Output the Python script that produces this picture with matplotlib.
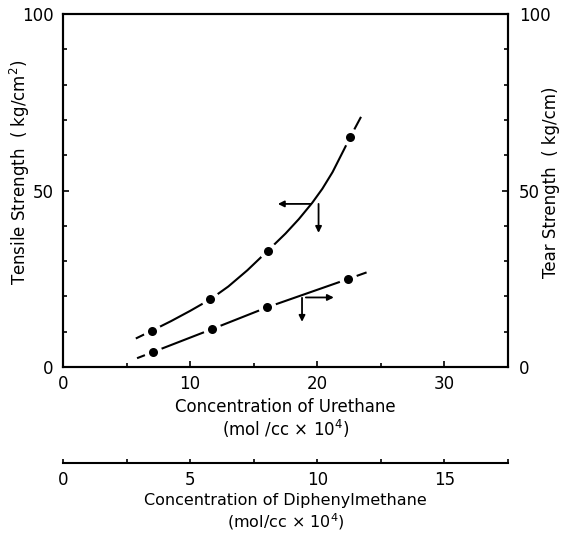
import numpy as np
import matplotlib
matplotlib.use('Agg')
import matplotlib.pyplot as plt

# measured points (urethane conc. in mol/cc x 1e4)
urethane = [7.0, 11.6, 16.1, 22.6]
tensile = [10.3, 19.2, 32.9, 65.2]
urethane_tear = [7.05, 11.7, 16.05, 22.4]
tear = [4.2, 10.7, 16.9, 24.9]

# hand drawn curves
tensile_curve_x = [5.8, 7.0, 8.5, 10.0, 11.6, 13.0, 14.5, 16.1, 17.5, 18.55, 19.6, 20.4, 21.2, 22.1, 22.6, 23.4]
tensile_curve_y = [8.2, 10.3, 13.0, 15.9, 19.2, 22.8, 27.4, 32.9, 37.8, 41.9, 46.5, 50.5, 55.2, 61.6, 65.2, 70.6]
tear_curve_x = [5.9, 7.05, 11.7, 16.05, 22.4, 23.8]
tear_curve_y = [2.6, 4.2, 10.7, 16.9, 24.9, 26.7]

fs = 12
plt.rcParams['font.family'] = ['DejaVu Sans']

fig = plt.figure(figsize=(5.63, 5.39), dpi=100)
ax = fig.add_axes([63/563, 172/539, 445/563, 353/539])
ax.set_xlim(0, 35)
ax.set_ylim(0, 100)

#%% curves with gaps around the dots
for cx, cy, px, py in [(tensile_curve_x, tensile_curve_y, urethane, tensile),
                       (tear_curve_x, tear_curve_y, urethane_tear, tear)]:
    ax.plot(cx, cy, color='black', lw=1.5, zorder=2)
    ax.plot(px, py, 'o', color='white', ms=13, mec='none', zorder=3)
    ax.plot(px, py, 'o', color='black', ms=6.5, mec='none', zorder=4)

# arrows telling which axis each curve belongs to
arw = dict(arrowstyle='-|>', color='black', lw=1.3, mutation_scale=9, shrinkA=0, shrinkB=0)
ax.annotate('', xy=(16.9, 46.2), xytext=(19.5, 46.2), arrowprops=arw)
ax.annotate('', xy=(20.1, 38.0), xytext=(20.1, 46.2), arrowprops=arw)
ax.annotate('', xy=(18.8, 12.8), xytext=(18.8, 19.6), arrowprops=arw)
ax.annotate('', xy=(21.3, 19.7), xytext=(19.1, 19.7), arrowprops=arw)

#%% axes
ax.set_xticks([0, 10, 20, 30])
ax.set_xticks([5, 15, 25, 35], minor=True)
ax.set_yticks([0, 50, 100])
ax.set_yticks(np.arange(10, 100, 10), minor=True)
ax.tick_params(which='both', direction='in', labelsize=fs, width=1.2)
ax.tick_params(which='major', length=4)
ax.tick_params(which='minor', length=3)
ax.tick_params(axis='y', pad=7)
ax.tick_params(axis='x', pad=6)
for s in ax.spines.values():
    s.set_linewidth(1.5)

ax.set_xlabel('Concentration of Urethane\n(mol /cc × 10$^4$)', fontsize=fs, linespacing=1.1)
ax.xaxis.set_label_coords(0.5, -0.088, transform=ax.transAxes)
ax.xaxis.label.set_va('top')
ax.set_ylabel('Tensile Strength  ( kg/cm$^2$)', fontsize=fs)
ax.yaxis.set_label_coords(-0.07, 0.552)

ax2 = ax.twinx()
ax2.set_ylim(0, 100)
ax2.set_yticks([0, 50, 100])
ax2.set_yticks(np.arange(10, 100, 10), minor=True)
ax2.tick_params(which='both', direction='in', labelsize=fs, width=1.2, pad=8)
ax2.tick_params(which='major', length=4)
ax2.tick_params(which='minor', length=3)
ax2.set_ylabel('Tear Strength  ( kg/cm)', fontsize=fs)
ax2.yaxis.set_label_coords(1.076, 0.524)
for s in ax2.spines.values():
    s.set_linewidth(1.5)

# second x scale: diphenylmethane = urethane / 2
sec = ax.secondary_xaxis((367 - 463) / 353, functions=(lambda x: x / 2, lambda x: x * 2))
sec.set_xticks([0, 5, 10, 15])
sec.set_xticks([2.5, 7.5, 12.5, 17.5], minor=True)
sec.tick_params(which='both', direction='in', labelsize=fs, width=1.2, length=3, pad=6)
sec.spines['bottom'].set_linewidth(1.5)
sec.set_xlabel('Concentration of Diphenylmethane\n(mol/cc × 10$^4$)', fontsize=11.5,
               linespacing=1.15, labelpad=3)

plt.savefig('out.png', dpi=100)
